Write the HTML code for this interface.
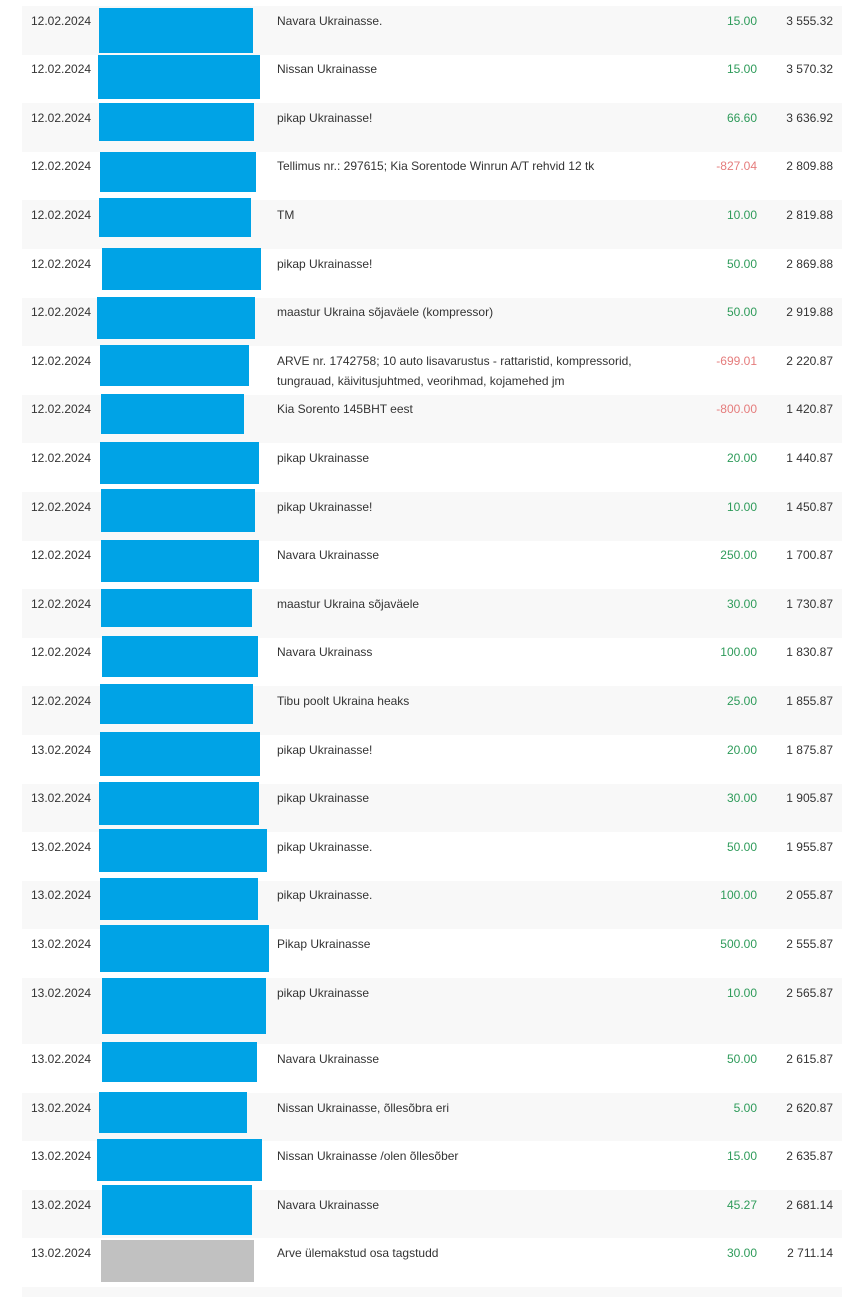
<!DOCTYPE html>
<html><head><meta charset="utf-8"><style>
body{margin:0;width:867px;height:1289px;background:#fff;position:relative;overflow:hidden;font-family:"Liberation Sans",Arial,sans-serif;font-size:12px;color:#333}
.r{position:absolute;left:22px;width:820px}
.g{background:#f8f8f8}
.t{position:absolute;line-height:20px;white-space:nowrap}
.d{left:31px}.ds{left:277px}
.a{right:110px;text-align:right}.b{right:34px;text-align:right}
.p{color:#2e9b5a}.n{color:#e57c7c}
.x{position:absolute;background:#00a3e6}
</style></head><body>
<div id="c"></div>
<script>
(function(){
var rows=[
["12.02.2024","Navara Ukrainasse.","15.00","3 555.32",[99,8,253,53]],
["12.02.2024","Nissan Ukrainasse","15.00","3 570.32",[98,55,260,99]],
["12.02.2024","pikap Ukrainasse!","66.60","3 636.92",[99,103,254,141]],
["12.02.2024","Tellimus nr.: 297615; Kia Sorentode Winrun A/T rehvid 12 tk","-827.04","2 809.88",[100,152,256,192]],
["12.02.2024","TM","10.00","2 819.88",[99,198,251,237]],
["12.02.2024","pikap Ukrainasse!","50.00","2 869.88",[102,248,261,290]],
["12.02.2024","maastur Ukraina sõjaväele (kompressor)","50.00","2 919.88",[97,297,255,339]],
["12.02.2024","ARVE nr. 1742758; 10 auto lisavarustus - rattaristid, kompressorid,<br>tungrauad, käivitusjuhtmed, veorihmad, kojamehed jm","-699.01","2 220.87",[100,345,249,386]],
["12.02.2024","Kia Sorento 145BHT eest","-800.00","1 420.87",[101,394,244,434]],
["12.02.2024","pikap Ukrainasse","20.00","1 440.87",[100,442,259,484]],
["12.02.2024","pikap Ukrainasse!","10.00","1 450.87",[101,489,255,532]],
["12.02.2024","Navara Ukrainasse","250.00","1 700.87",[101,540,259,582]],
["12.02.2024","maastur Ukraina sõjaväele","30.00","1 730.87",[101,589,252,627]],
["12.02.2024","Navara Ukrainass","100.00","1 830.87",[102,636,258,677]],
["12.02.2024","Tibu poolt Ukraina heaks","25.00","1 855.87",[100,684,253,724]],
["13.02.2024","pikap Ukrainasse!","20.00","1 875.87",[100,732,260,776]],
["13.02.2024","pikap Ukrainasse","30.00","1 905.87",[99,782,259,825]],
["13.02.2024","pikap Ukrainasse.","50.00","1 955.87",[99,829,267,872]],
["13.02.2024","pikap Ukrainasse.","100.00","2 055.87",[100,878,258,920]],
["13.02.2024","Pikap Ukrainasse","500.00","2 555.87",[100,925,269,972]],
["13.02.2024","pikap Ukrainasse","10.00","2 565.87",[102,978,266,1034]],
["13.02.2024","Navara Ukrainasse","50.00","2 615.87",[102,1042,257,1082]],
["13.02.2024","Nissan Ukrainasse, õllesõbra eri","5.00","2 620.87",[99,1092,247,1133]],
["13.02.2024","Nissan Ukrainasse /olen õllesõber","15.00","2 635.87",[97,1139,262,1181]],
["13.02.2024","Navara Ukrainasse","45.27","2 681.14",[102,1185,252,1235]],
["13.02.2024","Arve ülemakstud osa tagstudd","30.00","2 711.14",[101,1240,254,1282]]
];
var tops=[];for(var i=0;i<21;i++)tops.push(6+i*48.6);
tops.push(1044,1093,1141,1190,1238,1287);
var h="";
for(var i=0;i<rows.length;i++){var r=rows[i],rt=tops[i],ht=tops[i+1]-rt;
h+='<div class="r'+(i%2==0?' g':'')+'" style="top:'+rt+'px;height:'+ht+'px"></div>';
var ty=rt+4.5;
h+='<div class="t d" style="top:'+ty+'px">'+r[0]+'</div>';
h+='<div class="t ds" style="top:'+ty+'px">'+r[1]+'</div>';
h+='<div class="t a '+(r[2][0]=='-'?'n':'p')+'" style="top:'+ty+'px">'+r[2]+'</div>';
h+='<div class="t b" style="top:'+ty+'px">'+r[3]+'</div>';
var b=r[4];h+='<div class="x" style="left:'+b[0]+'px;top:'+b[1]+'px;width:'+(b[2]-b[0])+'px;height:'+(b[3]-b[1])+'px'+(i==25?';background:#c1c1c1':'')+'"></div>';}
h+='<div class="r g" style="top:1287px;height:10px"></div>';
document.getElementById("c").innerHTML=h;
})();
</script>
</body></html>
